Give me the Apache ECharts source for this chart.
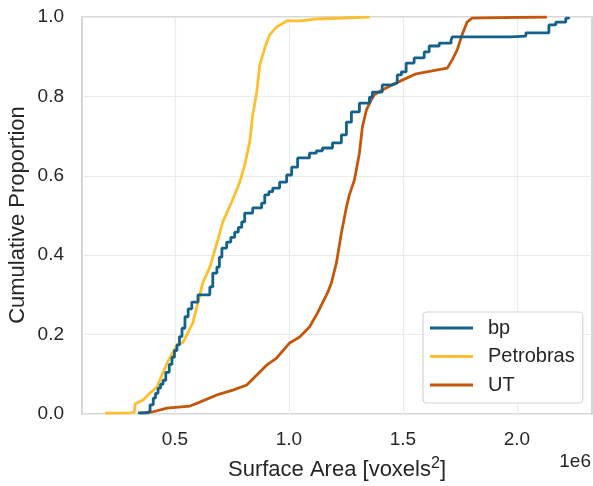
<!DOCTYPE html>
<html>
<head>
<meta charset="utf-8">
<script src="https://cdn.jsdelivr.net/npm/echarts@6/dist/echarts.min.js"></script>
<style>
html,body{margin:0;padding:0;background:#fff;}
#chart{width:593px;height:486px;}
</style>
</head>
<body>
<div id="chart"></div>
<script>
// Surface area in units of 1e6 voxels^2, cumulative proportion
const seriesNames = ['bp', 'Petrobras', 'UT'];
const bpArea = [0.338,0.382,0.391,0.405,0.415,0.426,0.437,0.448,0.460,0.475,0.487,0.498,0.509,0.520,0.531,0.544,0.558,0.574,0.601,0.631,0.653,0.666,0.684,0.695,0.706,0.727,0.745,0.762,0.778,0.793,0.806,0.841,0.880,0.894,0.912,0.929,0.959,0.990,1.012,1.038,1.090,1.120,1.147,1.191,1.230,1.252,1.274,1.309,1.353,1.366,1.409,1.453,1.475,1.493,1.514,1.549,1.593,1.615,1.659,1.711,1.716,1.974,2.039,2.131,2.140,2.170,2.214,2.227];
const bpProp = [0.003,0.008,0.023,0.040,0.052,0.065,0.075,0.085,0.105,0.125,0.143,0.160,0.174,0.195,0.216,0.245,0.265,0.282,0.300,0.300,0.320,0.355,0.370,0.395,0.418,0.433,0.445,0.458,0.470,0.484,0.506,0.519,0.531,0.552,0.560,0.569,0.584,0.602,0.622,0.645,0.657,0.663,0.670,0.683,0.703,0.735,0.761,0.783,0.798,0.811,0.829,0.834,0.854,0.862,0.884,0.897,0.912,0.927,0.934,0.942,0.950,0.952,0.960,0.960,0.980,0.987,0.997,1.000];
const petroArea = [0.194,0.303,0.322,0.326,0.360,0.391,0.421,0.465,0.509,0.535,0.579,0.622,0.653,0.688,0.710,0.749,0.784,0.806,0.828,0.841,0.859,0.872,0.894,0.915,0.946,0.990,1.047,1.121,1.353];
const petroProp = [0.002,0.003,0.005,0.026,0.035,0.053,0.068,0.128,0.174,0.180,0.230,0.330,0.370,0.438,0.484,0.534,0.584,0.627,0.685,0.753,0.811,0.879,0.922,0.955,0.975,0.990,0.990,0.995,1.000];
const utArea = [0.347,0.400,0.465,0.566,0.609,0.684,0.754,0.815,0.859,0.902,0.946,1.003,1.047,1.090,1.125,1.147,1.169,1.186,1.208,1.230,1.252,1.265,1.287,1.309,1.322,1.340,1.361,1.374,1.409,1.453,1.497,1.558,1.628,1.694,1.716,1.738,1.759,1.781,1.803,1.850,2.131];
const utProp = [0.002,0.005,0.015,0.020,0.030,0.048,0.060,0.073,0.098,0.123,0.141,0.179,0.194,0.219,0.254,0.280,0.305,0.330,0.380,0.456,0.521,0.552,0.589,0.657,0.723,0.766,0.791,0.804,0.816,0.829,0.841,0.857,0.864,0.871,0.892,0.917,0.955,0.987,0.997,0.998,1.000];
const xTickValues = [0.5, 1.0, 1.5, 2.0];
const xRange = [0.0925, 2.329];

const colors = ['#13628c', '#fcbf2f', '#c4570c'];
const stepStyle = ['end', false, false];
const FONT = "'Liberation Sans', Arial, sans-serif";
const TXT = '#262626';

function pairs(xs, ys) { return xs.map((x, i) => [x, ys[i]]); }
const allData = [pairs(bpArea, bpProp), pairs(petroArea, petroProp), pairs(utArea, utProp)];

const chart = echarts.init(document.getElementById('chart'), null, {renderer: 'canvas'});
chart.setOption({
  animation: false,
  backgroundColor: '#ffffff',
  color: colors,
  textStyle: {fontFamily: FONT, color: TXT},
  grid: {left: 82, top: 17, right: 1, bottom: 72, show: true, borderColor: '#cccccc', borderWidth: 1.6, backgroundColor: 'transparent'},
  xAxis: {
    type: 'value', min: xRange[0], max: xRange[1],
    axisLine: {show: false}, axisTick: {show: false, customValues: xTickValues},
    axisLabel: {customValues: xTickValues, fontSize: 19, color: TXT, fontFamily: FONT, margin: 16,
      formatter: v => v.toFixed(1)},
    splitLine: {show: true, lineStyle: {color: '#ebebeb', width: 1.2}}
  },
  yAxis: {
    type: 'value', min: 0, max: 1, interval: 0.2,
    axisLine: {show: false}, axisTick: {show: false},
    axisLabel: {fontSize: 19, color: TXT, fontFamily: FONT, margin: 18, formatter: v => v.toFixed(1)},
    splitLine: {show: true, lineStyle: {color: '#ebebeb', width: 1.2}}
  },
  legend: {
    orient: 'vertical', left: 423, top: 312,
    data: seriesNames,
    icon: 'rect', itemWidth: 43, itemHeight: 3, itemGap: 8.5,
    padding: [6, 8, 8, 7],
    backgroundColor: '#ffffff', borderColor: '#d6d6d6', borderWidth: 1.2, borderRadius: 4,
    textStyle: {fontSize: 20, color: TXT, fontFamily: FONT, lineHeight: 20, padding: [0, 0, 0, 10]}
  },
  graphic: [
    {type: 'text', x: 337, y: 470, style: {text: '{a|Surface Area [voxels}{s|2}{a|]}', rich: {
        a: {fontSize: 22, fontFamily: FONT, fill: TXT},
        s: {fontSize: 16, fontFamily: FONT, fill: TXT, padding: [0, 0, 13, 0]}
      }, align: 'center', verticalAlign: 'middle'}},
    {type: 'text', x: 18, y: 215, rotation: Math.PI / 2, style: {text: 'Cumulative Proportion', fontSize: 22, fontFamily: FONT, fill: TXT, align: 'center', verticalAlign: 'middle'}},
    {type: 'text', x: 591, y: 462, style: {text: '1e6', fontSize: 19, fontFamily: FONT, fill: TXT, align: 'right', verticalAlign: 'middle'}}
  ],
  series: seriesNames.map((name, i) => ({
    name: name, type: 'line', step: stepStyle[i], symbol: 'none', showSymbol: false,
    data: allData[i], lineStyle: {width: 2.8, color: colors[i]}, z: 5 - i
  }))
});
</script>
</body>
</html>
